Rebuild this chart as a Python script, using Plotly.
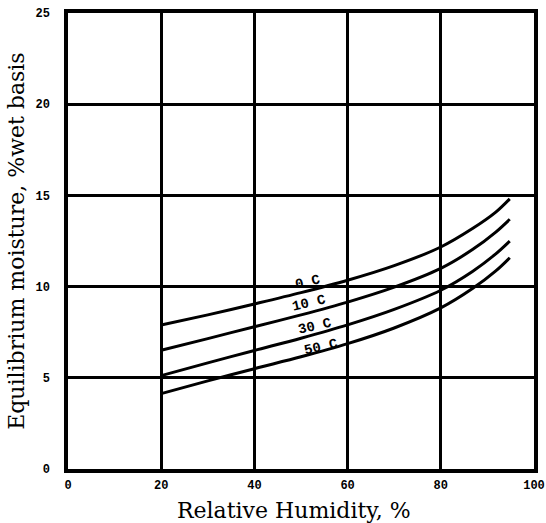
import plotly.graph_objects as go

rh = [20, 30, 40, 50, 60, 70, 80, 86.8, 91.8, 94.8]
emc_0c = [7.89, 8.45, 9.05, 9.67, 10.35, 11.15, 12.17, 13.18, 14.08, 14.81]
emc_10c = [6.51, 7.15, 7.8, 8.45, 9.15, 9.97, 11.0, 12.03, 12.99, 13.69]
emc_30c = [5.12, 5.82, 6.5, 7.17, 7.9, 8.75, 9.8, 10.83, 11.79, 12.49]
emc_50c = [4.13, 4.83, 5.5, 6.15, 6.87, 7.73, 8.83, 9.89, 10.86, 11.58]

series = [("0 C", emc_0c), ("10 C", emc_10c), ("30 C", emc_30c), ("50 C", emc_50c)]

label_x = [51.4, 51.7, 53.1, 54.2]
label_y = [10.23, 9.1, 7.83, 6.7]

x_ticks = [0, 20, 40, 60, 80, 100]
y_ticks = [0, 5, 10, 15, 20, 25]

x_title = "Relative Humidity, %"
y_title = "Equilibrium moisture, %wet basis"

fig = go.Figure()
for name, vals in series:
    fig.add_trace(go.Scatter(x=rh, y=vals, mode="lines", name=name,
                             line=dict(color="black", width=3, shape="spline", smoothing=0.9),
                             showlegend=False, hoverinfo="skip"))

for (name, _), lx, ly in zip(series, label_x, label_y):
    fig.add_annotation(x=lx, y=ly, text=name, showarrow=False, textangle=-13,
                       font=dict(family="Liberation Mono", size=14, color="black", weight="bold"))

title_font = dict(family="DejaVu Serif", size=22, color="black")
fig.add_annotation(text=x_title, xref="paper", yref="paper", x=0.485, y=-0.092,
                   xanchor="center", yanchor="middle", showarrow=False, font=title_font)
fig.add_annotation(text=y_title, xref="paper", yref="paper", x=-0.112, y=0.50,
                   xanchor="center", yanchor="middle", showarrow=False, textangle=-90,
                   font=title_font)

axis_common = dict(showline=True, linecolor="black", linewidth=3.5, mirror=True,
                   showgrid=True, gridcolor="black", gridwidth=2.5, zeroline=False,
                   automargin=False, ticks="",
                   tickfont=dict(family="Liberation Mono", size=12, color="black", weight="bold"))

fig.update_xaxes(range=[0, 100], tickvals=x_ticks, ticktext=[str(v) for v in x_ticks],
                 ticklabelstandoff=2, **axis_common)
fig.update_yaxes(range=[0, 25], tickvals=y_ticks, ticktext=[str(v) for v in y_ticks],
                 ticklabelstandoff=12, **axis_common)

fig.update_layout(width=546, height=523, margin=dict(l=68, r=12, t=13, b=54),
                  plot_bgcolor="white", paper_bgcolor="white")

fig.write_html("out.html")
